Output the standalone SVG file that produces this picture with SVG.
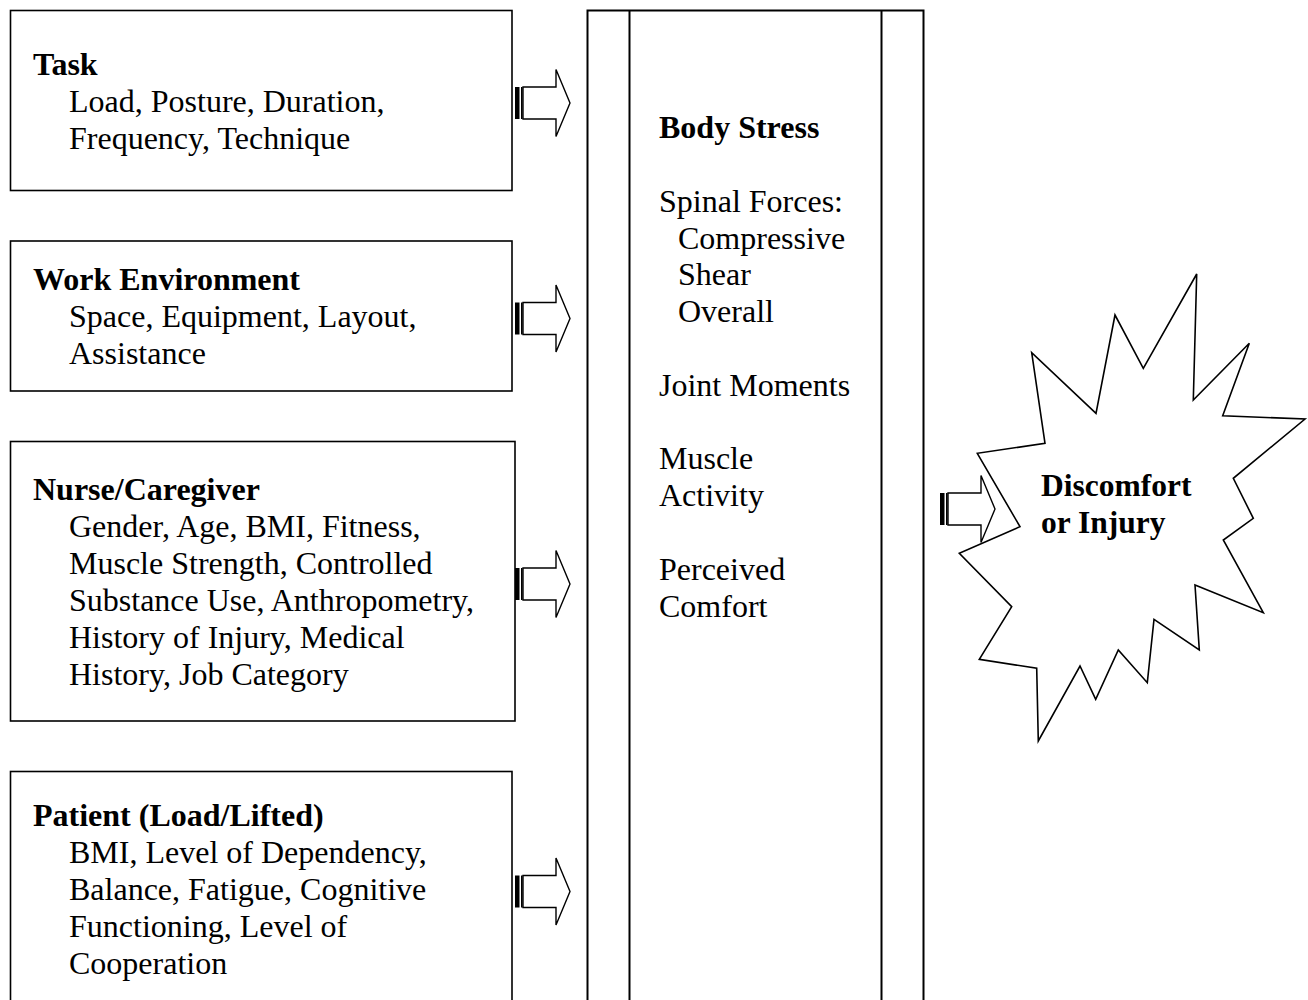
<svg xmlns="http://www.w3.org/2000/svg" xmlns:xlink="http://www.w3.org/1999/xlink" width="1308" height="1000" viewBox="0 0 1308 1000">
<style>
  .box { fill: #ffffff; stroke: #000000; stroke-width: 1.6; }
  .col { fill: none; stroke: #000000; stroke-width: 2; }
  .burst { fill: #ffffff; stroke: #000000; stroke-width: 1.6; stroke-linejoin: miter; }
  .arr { fill: #ffffff; stroke: #000000; stroke-width: 1.4; stroke-linejoin: miter; }
  text { font-family: "Liberation Serif", "Times New Roman", serif; font-size: 32px; fill: #000000; }
  .b { font-weight: bold; }
</style>
<defs>
  <g id="striped-arrow">
    <rect x="0" y="-16" width="4.5" height="32" fill="#000000"/>
    <rect x="6" y="-16" width="1.6" height="32" fill="#000000"/>
    <polygon class="arr" points="8,-16 41,-16 41,-33.5 55,0 41,33.5 41,16 8,16"/>
  </g>
</defs>

<rect width="1308" height="1000" fill="#ffffff"/>

<g id="node-task">
  <rect class="box" x="10.5" y="10.5" width="501.5" height="180"/>
  <text class="b" x="33" y="75">Task</text>
  <text x="69" y="112">Load, Posture, Duration,</text>
  <text x="69" y="149">Frequency, Technique</text>
</g>

<g id="node-work-environment">
  <rect class="box" x="10.5" y="241" width="501.5" height="150"/>
  <text class="b" x="33" y="290">Work Environment</text>
  <text x="69" y="327">Space, Equipment, Layout,</text>
  <text x="69" y="364">Assistance</text>
</g>

<g id="node-nurse">
  <rect class="box" x="10.5" y="441.5" width="504.5" height="279.5"/>
  <text class="b" x="33" y="500">Nurse/Caregiver</text>
  <text x="69" y="537">Gender, Age, BMI, Fitness,</text>
  <text x="69" y="574">Muscle Strength, Controlled</text>
  <text x="69" y="611">Substance Use, Anthropometry,</text>
  <text x="69" y="648">History of Injury, Medical</text>
  <text x="69" y="685">History, Job Category</text>
</g>

<g id="node-patient">
  <rect class="box" x="10.5" y="771.5" width="501.5" height="240"/>
  <text class="b" x="33" y="826">Patient (Load/Lifted)</text>
  <text x="69" y="863">BMI, Level of Dependency,</text>
  <text x="69" y="900">Balance, Fatigue, Cognitive</text>
  <text x="69" y="937">Functioning, Level of</text>
  <text x="69" y="974">Cooperation</text>
</g>

<g id="node-body-stress">
  <rect class="col" x="587.5" y="10.5" width="336" height="1000"/>
  <line class="col" x1="629.5" y1="10.5" x2="629.5" y2="1005"/>
  <line class="col" x1="881.5" y1="10.5" x2="881.5" y2="1005"/>
  <text class="b" x="659" y="138">Body Stress</text>
  <text x="659" y="212">Spinal Forces:</text>
  <text x="678" y="248.5">Compressive</text>
  <text x="678" y="285">Shear</text>
  <text x="678" y="322">Overall</text>
  <text x="659" y="396">Joint Moments</text>
  <text x="659" y="469">Muscle</text>
  <text x="659" y="506">Activity</text>
  <text x="659" y="580">Perceived</text>
  <text x="659" y="616.5">Comfort</text>
</g>

<g id="node-discomfort">
  <polygon class="burst" points="1196.7,274 1193.3,400 1249.3,343.3 1222.7,415.7 1305,419 1233.3,478.3 1253.3,518.3 1223.3,540 1263.3,612.7 1195,585 1199.3,650 1154,619.3 1147.3,682.7 1118.3,650 1095.7,699.3 1080,666 1038.3,741 1036.7,668.3 979.3,659.3 1011.7,606.7 959.3,553.3 1020,526.7 977.3,453.3 1045,443.3 1031.7,352.7 1096,413.3 1115,315 1143.3,368.3"/>
  <text class="b" x="1041" y="496" style="font-size:31.5px">Discomfort</text>
  <text class="b" x="1041" y="533" style="font-size:31.5px">or Injury</text>
</g>

<g id="connectors">
  <use xlink:href="#striped-arrow" href="#striped-arrow" transform="translate(515,103)"/>
  <use xlink:href="#striped-arrow" href="#striped-arrow" transform="translate(515,318.5)"/>
  <use xlink:href="#striped-arrow" href="#striped-arrow" transform="translate(515,584)"/>
  <use xlink:href="#striped-arrow" href="#striped-arrow" transform="translate(515,891.5)"/>
  <use xlink:href="#striped-arrow" href="#striped-arrow" transform="translate(940,509)"/>
</g>
</svg>
